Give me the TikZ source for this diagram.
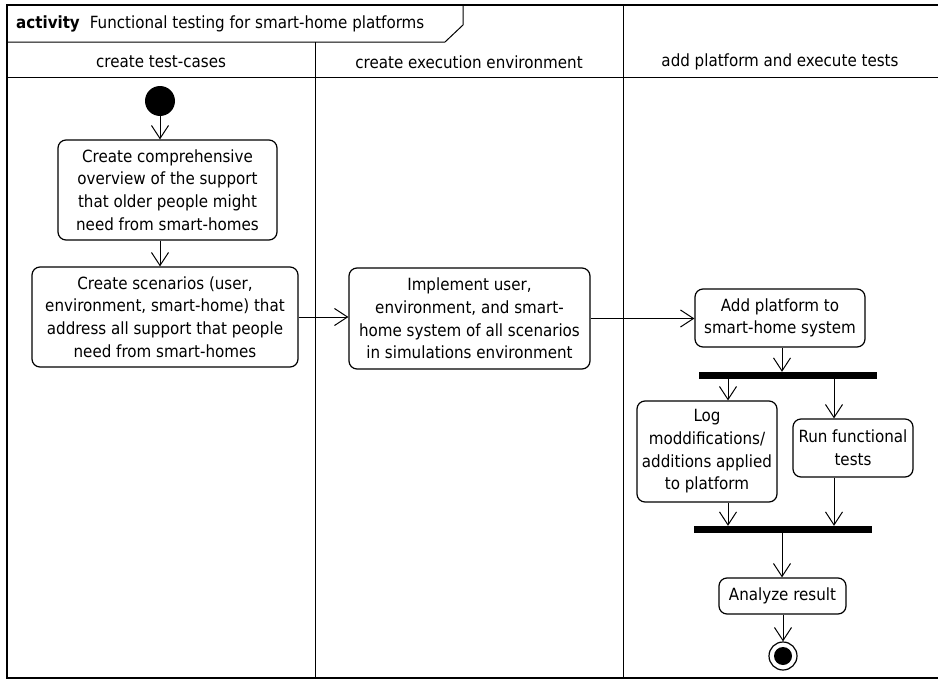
\documentclass[tikz,border=0pt]{standalone}
\usepackage{fontspec}
\setmainfont{DejaVu Sans Condensed}
\usetikzlibrary{arrows.meta}
\begin{document}
\begin{tikzpicture}[x=1pt,y=-1pt,
  font=\fontsize{16.8}{22.7}\selectfont,
  act/.style={draw, rounded corners=8pt, line width=1.2pt, align=center, inner sep=0pt},
  syncbar/.style={fill=black, inner sep=0pt, minimum height=7pt},
  flow/.style={-{Straight Barb[length=13pt,width=17pt]}, line width=1pt},
  lane/.style={line width=1pt},
  hdr/.style={inner sep=0pt}]
\useasboundingbox (0,0) rectangle (938,680);

% frame, name tab and swimlanes
\draw[line width=1.8pt] (7,5) rectangle (945,678);
\draw[lane] (7,42) -- (445,42) -- (463,25) -- (463,5);
\draw[lane] (7,77) -- (945,77);
\draw[lane] (315,42) -- (315,678);
\draw[lane] (623,5) -- (623,678);

\node[anchor=west, inner sep=0pt] (title) at (16,24)
  {\textbf{activity}\hspace{0.6em}Functional testing for smart-home platforms};
\node[hdr] (h1) at (161,62) {create test-cases};
\node[hdr] (h2) at (469,62) {create execution environment};
\node[hdr] (h3) at (780,62) {add platform and execute tests};

% helper columns for vertical flows
\coordinate (colM) at (782,0);
\coordinate (colL) at (728,0);
\coordinate (colR) at (834,0);

% nodes
\node[circle, fill=black, minimum size=30pt, inner sep=0pt] (start) at (160,101) {};
\node[act, minimum width=219pt, minimum height=100pt] (b1) at (167.5,190)
  {Create comprehensive\\overview of the support\\that older people might\\need from smart-homes};
\node[act, minimum width=266pt, minimum height=100pt] (b2) at (165,317)
  {Create scenarios (user,\\environment, smart-home) that\\address all support that people\\need from smart-homes};
\node[act, minimum width=241pt, minimum height=101pt] (b3) at (469.5,318.5)
  {Implement user,\\environment, and smart-\\home system of all scenarios\\in simulations environment};
\node[act, minimum width=170pt, minimum height=58pt] (b4) at (780,318)
  {Add platform to\\smart-home system};
\node[syncbar, minimum width=178pt] (fork) at (788,375.5) {};
\node[act, minimum width=140pt, minimum height=101pt] (b5) at (707,451.5)
  {Log\\moddifications/\\additions applied\\to platform};
\node[act, minimum width=120pt, minimum height=58pt] (b6) at (853,448)
  {Run functional\\tests};
\node[syncbar, minimum width=178pt] (join) at (783,529.5) {};
\node[act, minimum width=127pt, minimum height=36pt] (b7) at (782.5,596)
  {Analyze result};
\node[circle, draw, line width=1.2pt, minimum size=28pt, inner sep=0pt] (final) at (783,656) {};
\node[circle, fill=black, minimum size=18pt, inner sep=0pt] (finaldot) at (final) {};

% control flows
\draw[flow] (start) -- (start |- b1.north);
\draw[flow] (b1.south -| start) -- (b2.north -| start);
\draw[flow] (b2.east) -- (b2.east -| b3.west);
\draw[flow] (b3.east) -- (b3.east -| b4.west);
\draw[flow] (b4.south -| colM) -- (fork.north -| colM);
\draw[flow] (fork.south -| colL) -- (b5.north -| colL);
\draw[flow] (fork.south -| colR) -- (b6.north -| colR);
\draw[flow] (b5.south -| colL) -- (join.north -| colL);
\draw[flow] (b6.south -| colR) -- (join.north -| colR);
\draw[flow] (join.south -| colM) -- (b7.north -| colM);
\draw[flow] (b7.south -| final) -- (final.north);
\end{tikzpicture}
\end{document}
